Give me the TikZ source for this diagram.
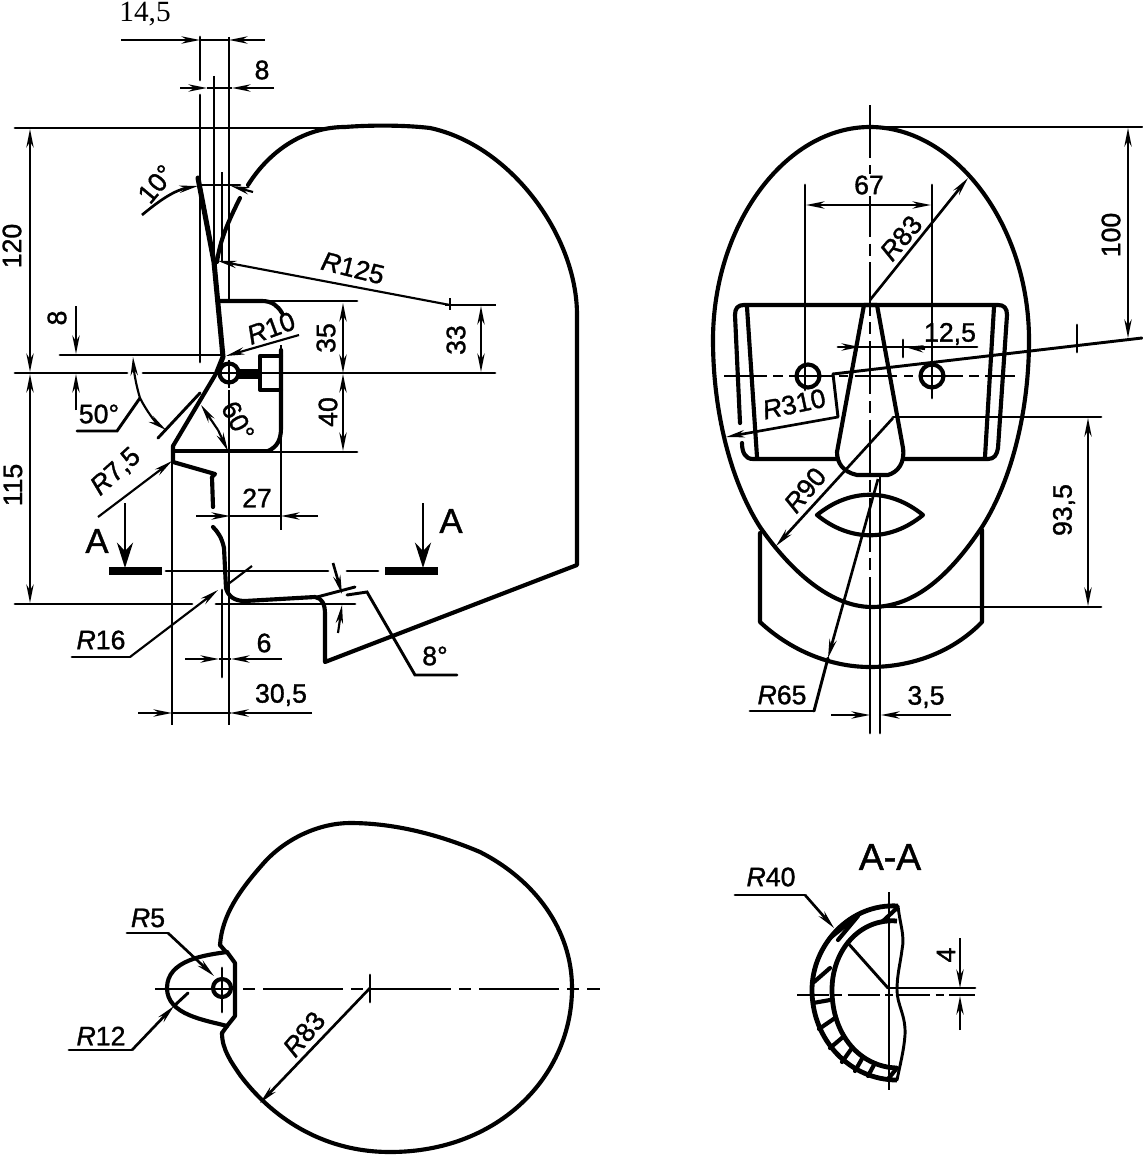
\documentclass[tikz,border=0pt]{standalone}
\usepackage{fontspec}
\setmainfont[FakeBold=1.2]{Liberation Sans}
\newfontfamily\numserif{Liberation Serif}
\usetikzlibrary{arrows.meta}
\tikzset{
 thk/.style={line width=3.1pt,line cap=round,line join=round},
 med/.style={line width=2.2pt,line cap=round},
 thn/.style={line width=1.6pt},
 arr/.style={line width=1.6pt,-{Stealth[length=14pt,width=5.5pt]}},
 bigarr/.style={line width=2pt,-{Stealth[length=19pt,width=12pt]}},
 lbl/.style={font=\fontsize{20}{24}\selectfont,inner sep=0pt},
 big/.style={font=\fontsize{27}{30}\selectfont,inner sep=0pt},
 bar/.style={fill=black,draw=none}
}
\newcommand{\Rr}{\textit{R}}
\begin{document}
\begin{tikzpicture}[x=0.75pt,y=-0.75pt]
\useasboundingbox[fill=white] (0,0) rectangle (1142,1156);
% ===== SIDE VIEW =====
\draw[thk] (248,185) .. controls (270,150) and (305,127) .. (345,127) .. controls (370,125) and (405,125) .. (430,128) .. controls (510,145) and (577,235) .. (577,315) -- (577,565) -- (325,662) -- (325,614) .. controls (325,604) and (322,598) .. (315,597)
 -- (245,601) .. controls (234,601) and (228,596) .. (226,588) -- (224,548) .. controls (222,538) and (218,532) .. (213,527);
\draw[thk] (213,507) -- (212,477) -- (215,474) -- (173,462) -- (173,446) -- (217,372);
\draw[line width=3.8pt,line cap=round,line join=round] (217,372) -- (223,357) -- (214,262) -- (198,178);
\draw[thk] (240,198) .. controls (228,222) and (220,240) .. (217,262);
% verticals
\draw[med] (200,37) -- (200,80) (200,95) -- (200,362);
\draw[thn] (214,76) -- (214,262);
\draw[thn] (229,37) -- (229,300);
\draw[thn] (229,390) -- (229,725);
\draw[thn] (222,172) -- (222,262);
\draw[thn] (172,462) -- (172,725);
\draw[med] (222,590) -- (222,677);
\draw[thn] (281,345) -- (281,530);
% top dims
\draw[arr] (121,40) -- (200,40);
\draw[arr] (265,40) -- (229,40);
\draw[thn] (200,40) -- (229,40);
\draw[arr] (180,88) -- (207,88);
\draw[arr] (274,88) -- (232,88);
\draw[thn] (207,88) -- (232,88);
\node[lbl,font=\numserif\fontsize{22}{26}\selectfont,anchor=base] (t145) at (145,22) {14,5};
\node[lbl] (t8a) at (262,70) {8};
% horizontal references
\draw[med] (15,128) -- (345,128);
\draw[med] (60,355) -- (222,355);
\draw[med] (15,373) -- (127,373) (143,373) -- (495,373);
\draw[med] (15,604) -- (192,604);
\draw[med] (216,604) -- (355,604);
% 10 deg
\draw[arr,line width=2pt] (142,215) .. controls (160,200) and (175,190) .. (198,186);
\draw[med] (200,185) -- (240,185);
\draw[arr] (253,192) -- (231,186);
\node[lbl,rotate=50] (t10) at (156,184) {10°};
% R125
\draw[arr] (450,305) -- (218,261);
\draw[thn] (450,298) -- (450,310);
\node[lbl,rotate=-14] (t125) at (353,268) {\Rr125};
% bracket block
\draw[thk] (219,301) -- (262,301) .. controls (272,301) and (278,306) .. (282,313);
\draw[med] (262,301) -- (357,301);
\draw[thk] (281,350) -- (281,428) .. controls (281,440) and (277,447) .. (268,451);
\draw[thk] (173,451) -- (268,451);
\draw[med] (268,452) -- (357,452);
\draw[thk] (229,373) circle (9.5);
\draw[thn] (229,360) -- (229,388) (218,373) -- (240,373);
\fill (239,369) rectangle (260,379);
\draw[thk] (260,356) -- (281,356) (260,356) -- (260,390) -- (281,390);
% 35, 40, 33
\draw[arr] (343,340) -- (343,303);
\draw[arr] (343,340) -- (343,373);
\draw[arr] (343,410) -- (343,374);
\draw[arr] (343,410) -- (343,451);
\node[lbl,rotate=90] (t35) at (326,338) {35};
\node[lbl,rotate=90] (t40) at (328,412) {40};
\draw[thn] (445,305) -- (496,305);
\draw[arr] (481,340) -- (481,306);
\draw[arr] (481,340) -- (481,372);
\node[lbl,rotate=90] (t33) at (456,340) {33};
% 120, 115
\draw[arr] (30,250) -- (30,129);
\draw[arr] (30,250) -- (30,372);
\draw[arr] (30,490) -- (30,374);
\draw[arr] (30,490) -- (30,603);
\node[lbl,rotate=90] (t120) at (12,246) {120};
\node[lbl,rotate=90] (t115) at (13,485) {115};
% 8
\draw[arr] (76,306) -- (76,354);
\draw[arr] (76,410) -- (76,374);
\node[lbl,rotate=90] (t8b) at (57,318) {8};
% 50
\draw[arr] (140,398) .. controls (136,385) and (134,372) .. (133,357);
\draw[arr] (140,398) .. controls (146,410) and (155,422) .. (166,430);
\draw[med] (158,438) -- (200,393);
\draw[med] (77,431) -- (117,431) -- (140,398);
\node[lbl] (t50) at (99,414) {50°};
% 60
\draw[arr] (218,430) -- (201,405);
\draw[arr] (218,430) -- (228,451);
\node[lbl,rotate=-62] (t60) at (238,421) {60°};
% R10
\draw[arr] (299,335) -- (226,356);
\node[lbl,rotate=20] (t10r) at (271,328) {\Rr10};
% R7,5
\draw[arr] (98,517) -- (172,461);
\node[lbl,rotate=42] (t75) at (116,472) {\Rr7,5};
% 27
\draw[arr] (196,516) -- (230,516);
\draw[arr] (318,516) -- (281,516);
\draw[thn] (230,516) -- (281,516);
\node[lbl] (t27) at (257,498) {27};
% section A
\fill[bar] (109,567) rectangle (162,575);
\fill[bar] (385,567) rectangle (438,575);
\draw[bigarr] (125,503) -- (125,568);
\draw[bigarr] (423,503) -- (423,568);
\draw[med] (166,571) -- (328,571) (347,571) -- (378,571);
\node[big,font=\fontsize{26}{30}\selectfont] (tAl) at (97,541) {A};
\node[big,font=\fontsize{26}{30}\selectfont] (tAr) at (451,521) {A};
% R16
\draw[med] (72,657) -- (130,657);
\draw[arr] (130,657) -- (218,590);
\draw[thn] (227,585) -- (252,566);
\node[lbl] (t16) at (101,640) {\Rr16};
% 6, 30,5
\draw[arr] (185,659) -- (219,659);
\draw[arr] (282,659) -- (231,659);
\draw[thn] (219,659) -- (231,659);
\node[lbl] (t6) at (264,643) {6};
\draw[arr] (138,713) -- (172,713);
\draw[arr,line width=2pt] (312,713) -- (230,713);
\draw[med] (172,713) -- (230,713);
\node[lbl] (t305) at (281,695) {30,5};
% 8 deg
\draw[med] (317,597) -- (355,587);
\draw[med] (347,595) -- (367,592) -- (415,675) -- (457,675);
\draw[arr,line width=2pt] (333,563) -- (342,594);
\draw[arr] (338,633) -- (342,605);
\node[lbl] (t8d) at (435,656) {8°};
% ===== FRONT VIEW =====
\draw[thk] (870,127) .. controls (785,127) and (713,225) .. (713,340) .. controls (713,410) and (730,480) .. (760,527) .. controls (790,570) and (830,607) .. (872,607) .. controls (915,607) and (950,575) .. (982,527) .. controls (1012,480) and (1029,410) .. (1029,340) .. controls (1029,225) and (955,127) .. (870,127);
\draw[thk] (760,533) -- (760,622) .. controls (790,650) and (830,667) .. (870,667) .. controls (915,667) and (955,650) .. (982,622) -- (982,530);
% goggles
\draw[thk] (740,423) -- (735,315) .. controls (735,308) and (738,305) .. (744,305) -- (998,305) .. controls (1004,305) and (1007,308) .. (1007,315) -- (998,448) .. controls (997,455) and (994,459) .. (988,459) -- (903,459);
\draw[thk] (742,443) .. controls (742,452) and (745,459) .. (753,459) -- (837,459);
\draw[thk] (747,307) -- (757,457);
\draw[thk] (994,307) -- (985,457);
% nose
\draw[thk] (864,305) -- (837,452) .. controls (837,463) and (843,472) .. (857,475) -- (888,475) .. controls (898,472) and (905,463) .. (903,448) -- (877,305) -- (864,305);
% mouth
\draw[thk] (817,515) .. controls (850,488) and (890,488) .. (923,515) .. controls (890,542) and (850,542) .. (817,515);
% centre lines
\draw[med,line cap=butt,dash pattern=on 40pt off 5pt on 9pt off 5pt] (870,105) -- (870,607);
\draw[med] (870,607) -- (870,733);
\draw[med] (880,477) -- (880,733);
\draw[med,line cap=butt,dash pattern=on 32pt off 5pt on 7pt off 5pt] (724,376) -- (1015,376);
\draw[med] (805,185) -- (805,390);
\draw[med] (932,185) -- (932,398);
\draw[thk] (808,376) circle (11.5);
\draw[thk] (932,376) circle (11.5);
% 67
\draw[arr] (870,205) -- (806,205);
\draw[arr] (870,205) -- (931,205);
\node[lbl,fill=white,inner sep=1pt] (t67) at (869,185) {67};
% R83
\draw[arr,line width=2pt] (870,300) -- (968,178);
\node[lbl,rotate=50] (t83a) at (901,238) {\Rr83};
% 100
\draw[med] (870,127) -- (1142,127);
\draw[arr] (1128,230) -- (1128,128);
\draw[arr] (1128,230) -- (1128,338);
\node[lbl,rotate=90] (t100) at (1111,235) {100};
% 12,5
\draw[med] (838,347) -- (977,347);
\draw[arr] (838,347) -- (860,347);
\draw[arr] (925,349) -- (905,347);
\draw[med] (903,340) -- (903,357);
\node[lbl] (t125b) at (950,334) {12,5};
\draw[med] (833,374) -- (1142,338);
\draw[med] (1077,325) -- (1077,352);
% R310
\draw[med] (833,374) -- (838,417);
\draw[arr,line width=2pt] (838,417) -- (726,437);
\node[lbl,rotate=12] (t310) at (794,404) {\Rr310};
% R90
\draw[arr,line width=2pt] (893,418) -- (776,546);
\node[lbl,rotate=50] (t90) at (805,490) {\Rr90};
% 93,5
\draw[med] (893,417) -- (1101,417);
\draw[med] (873,607) -- (1101,607);
\draw[arr] (1088,510) -- (1088,418);
\draw[arr] (1088,510) -- (1088,606);
\node[lbl,rotate=90] (t935) at (1064,510) {93,5};
% R65
\draw[med] (750,711) -- (814,711);
\draw[arr,line width=2pt] (878,479) -- (828,658);
\draw[med] (828,658) -- (814,711);
\node[lbl] (t65) at (782,695) {\Rr65};
% 3,5
\draw[arr] (831,715) -- (870,715);
\draw[arr] (951,715) -- (881,715);
\node[lbl] (t35b) at (926,697) {3,5};
% ===== TOP VIEW =====
\draw[thk] (220,945) .. controls (222,915) and (240,890) .. (262,865) .. controls (285,838) and (320,823) .. (350,823) .. controls (395,823) and (440,835) .. (480,852) .. controls (535,880) and (572,930) .. (572,988) .. controls (572,1075) and (500,1152) .. (390,1152) .. controls (320,1152) and (270,1115) .. (240,1075) .. controls (232,1063) and (222,1050) .. (222,1033);
\draw[thk] (220,945) -- (226,952);
\draw[thk] (222,1033) -- (227,1026);
\draw[thk] (227,952) .. controls (205,955) and (167,960) .. (167,988) .. controls (167,1015) and (205,1020) .. (227,1026);
\draw[thk] (227,952) -- (235,963) -- (235,1016) -- (227,1026);
\draw[thk] (222,988) circle (9);
\draw[med] (222,968) -- (222,1012);
\draw[med,line cap=butt,dash pattern=on 60pt off 6pt on 9pt off 6pt] (155,989) -- (600,989);
\draw[arr,line width=2pt] (370,988) -- (260,1103);
\draw[med] (370,975) -- (370,1002);
\node[lbl,rotate=50] (t83b) at (304,1034) {\Rr83};
\draw[med] (127,933) -- (168,933);
\draw[arr,line width=2pt] (168,933) -- (214,976);
\node[lbl] (t5) at (148,918) {\Rr5};
\draw[med] (69,1050) -- (132,1050);
\draw[arr,line width=2pt] (132,1050) -- (174,1006);
\draw[med] (174,1006) -- (188,993);
\node[lbl] (t12) at (101,1036) {\Rr12};
% ===== SECTION A-A =====
\node[big,font=\fontsize{28}{30}\selectfont] (tAA) at (890,857) {A-A};
\draw[line width=3.6pt,line join=round] (898,906) .. controls (850,903) and (812,945) .. (812,990) .. controls (812,1040) and (850,1080) .. (897,1080);
\draw[line width=3.6pt,line join=round] (897,921) .. controls (860,918) and (832,950) .. (832,990) .. controls (832,1035) and (860,1067) .. (897,1068);
\draw[med] (898,906) .. controls (900,925) and (905,935) .. (902,950) .. controls (900,965) and (897,975) .. (897,990) .. controls (897,1005) and (906,1015) .. (905,1035) .. controls (904,1050) and (900,1065) .. (897,1080);
\draw[thn] (889,892) -- (889,1090);
\draw[med,line cap=butt,dash pattern=on 24pt off 4pt on 6pt off 4pt] (797,995) -- (975,995);
\draw[med] (889,988) -- (975,988);
\draw[thk] (813,1003) -- (830,1000);
\draw[thk] (819,1029) -- (835,1018);
\draw[thk] (830,1048) -- (843,1037);
\draw[thk] (842,1062) -- (852,1048);
\draw[thk] (855,1071) -- (863,1057);
\draw[thk] (868,1076) -- (875,1063);
\draw[thk] (888,1079) -- (897,1068);
\draw[thk] (814,982) -- (830,968);
\draw[thk] (830,938) -- (850,922);
\draw[thk] (838,940) -- (858,916);
\draw[thk] (882,922) -- (897,908);
\draw[med] (847,942) -- (888,988);
\draw[med] (735,895) -- (805,895);
\draw[arr,line width=2pt] (805,895) -- (834,928);
\node[lbl] (t40r) at (771,877) {\Rr40};
\draw[arr] (960,938) -- (960,988);
\draw[arr] (960,1030) -- (960,996);
\node[lbl,rotate=90] (t4) at (946,955) {4};
\end{tikzpicture}
\end{document}
